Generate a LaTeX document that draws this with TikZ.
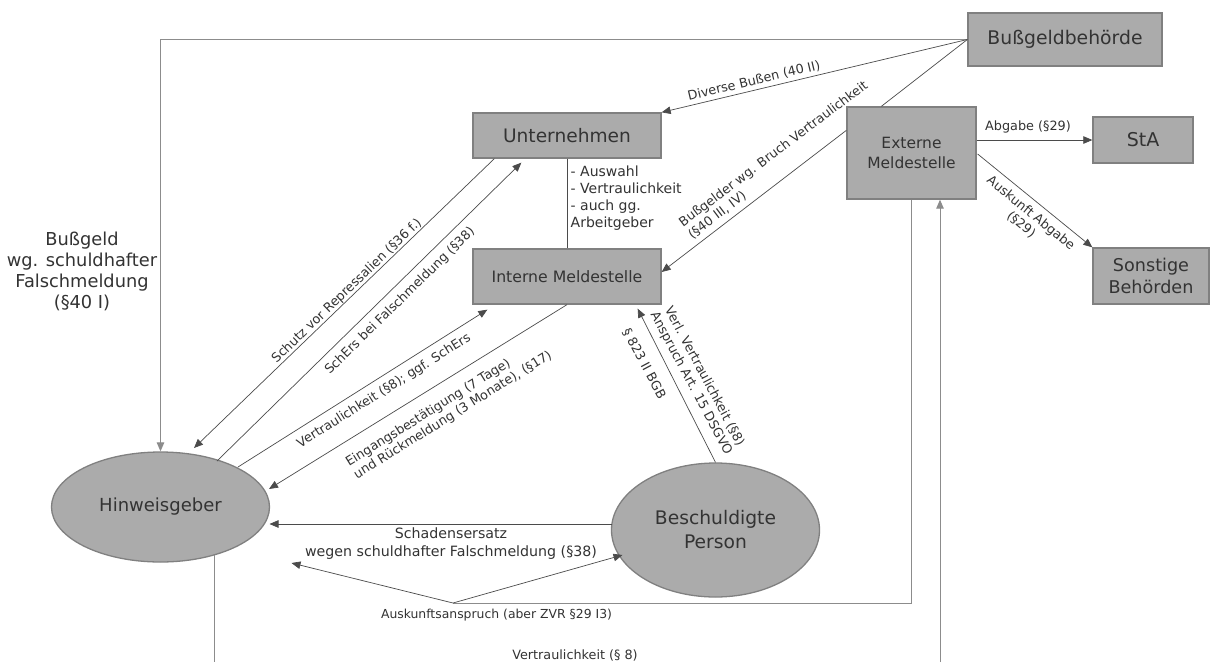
\documentclass[tikz,border=0pt]{standalone}
\usepackage{fontspec}
\setmainfont{DejaVu Sans}
\usetikzlibrary{arrows.meta,calc,shapes.geometric}
\definecolor{boxfill}{RGB}{171,171,171}
\definecolor{boxline}{RGB}{128,128,128}
\definecolor{txt}{RGB}{51,51,51}
\definecolor{conn}{RGB}{75,75,75}
\definecolor{lightconn}{RGB}{140,140,140}
\begin{document}
\begin{tikzpicture}[x=1pt,y=-1pt,
  box/.style={draw=boxline,fill=boxfill,line width=1.3pt,inner sep=0pt,text=txt,align=center},
  oval/.style={ellipse,draw=boxline,fill=boxfill,line width=1.3pt,inner sep=0pt,text=txt,align=center},
  link/.style={draw=conn,line width=0.7pt},
  arr/.style={link,-{Triangle[length=9pt,width=7.5pt]}},
  lbl/.style={text=txt,font=\fontsize{12.8}{15}\selectfont,inner sep=0pt},
]
\useasboundingbox (0,0) rectangle (1211,662);
\fill[white] (0,0) rectangle (1211,662);

% nodes
\node[box,minimum width=194pt,minimum height=53pt,font=\fontsize{18.8}{22}\selectfont] (bb) at (1065,39.5) {Bußgeldbehörde};
\node[box,minimum width=129pt,minimum height=92pt,font=\fontsize{15.5}{19.5}\selectfont] (ext) at (911.5,153) {Externe\\Meldestelle};
\node[box,minimum width=100pt,minimum height=46pt,font=\fontsize{19}{22}\selectfont] (sta) at (1143,140) {StA};
\node[box,minimum width=116pt,minimum height=56pt,font=\fontsize{17.6}{21.5}\selectfont] (sonst) at (1151,276) {Sonstige\\Behörden};
\node[box,minimum width=188pt,minimum height=45pt,font=\fontsize{18.6}{22}\selectfont] (unt) at (567,135.5) {Unternehmen};
\node[box,minimum width=188pt,minimum height=55pt,font=\fontsize{15.7}{19}\selectfont] (int) at (567,276.5) {Interne Meldestelle};
\node[oval,minimum width=218pt,minimum height=110pt,font=\fontsize{18}{20}\selectfont] (hw) at (160.5,507) {Hinweisgeber};
\node[oval,minimum width=208pt,minimum height=134pt,font=\fontsize{18.7}{24}\selectfont] (bp) at (715.5,530) {Beschuldigte\\Person};
\node[text=txt,align=center,inner sep=0pt,font=\fontsize{17.8}{21}\selectfont] (bgtext) at (82,271.5) {Bußgeld\\wg. schuldhafter\\Falschmeldung\\(§40 I)};

% connectors
\draw[arr,draw=lightconn,line width=1.1pt] (bb.west) -| (hw.north);
\draw[arr] (bb.west) -- (unt.north east);
\draw[link] (bb.west) -- ($(ext.north west)+(35,0)$);
\draw[arr] ($(ext.north west)+(0,24)$) -- ($(int.east)+(0,-4.5)$);
\draw[arr] ($(ext.east)+(0,-13)$) -- (sta.west);
\draw[arr] ($(ext.east)+(1,1)$) -- (sonst.north west);
\draw[link] (unt.south) -- (int.north);
\draw[arr] ($(unt.south west)+(22,0)$) -- ($(hw.center)+(33.5,-59)$);
\draw[arr] ($(hw.center)+(56.5,-46)$) -- ($(unt.south west)+(49,4)$);
\draw[arr] ($(hw.center)+(77.5,-40)$) -- ($(int.south west)+(15,5)$);
\draw[arr] (int.south) -- ($(hw.center)+(108.5,-18)$);
\draw[arr] (bp.north) -- ($(int.south east)+(-24,4)$);
\draw[arr] ($(bp.center)+(-104,-6)$) -- ($(hw.center)+(109,17)$);
\coordinate (j) at (453,603);
\coordinate (aL) at (291.5,563);
\draw[link,draw=lightconn,line width=1pt] (ext.south) |- (j);
\draw[arr] (j) -- (aL);
\draw[arr] (j) -- ($(bp.center)+(-93,25)$);
\coordinate (b1) at (214,662);
\coordinate (b2) at (940,662);
\draw[link,draw=lightconn,line width=1pt] ($(hw.center)+(53.5,48)$) -- (b1);
\draw[arr,draw=lightconn,line width=1pt] (b2) -- ($(ext.south)+(28.5,0)$);

% labels
\node[lbl,rotate=13.4] (l2) at (754,81) {Diverse Bußen (40 II)};
\node[lbl,rotate=37,align=left] (l4) at (778,160) {Bußgelder wg. Bruch Vertraulichkeit\\(§40 III, IV)};
\node[lbl] (l5) at (1028,127) {Abgabe (§29)};
\node[lbl,rotate=-39.3,align=center] (l6) at (1026,219) {Auskunft Abgabe\\(§29)};
\node[text=txt,inner sep=0pt,align=left,anchor=west,font=\fontsize{14}{16.8}\selectfont] (l7) at (570.5,198) {- Auswahl\\- Vertraulichkeit\\- auch gg.\\Arbeitgeber};
\node[lbl,rotate=43.9] (l8) at (347,291) {Schutz vor Repressalien (§36 f.)};
\node[lbl,rotate=44.4] (l9) at (400,301) {SchErs bei Falschmeldung (§38)};
\node[lbl,rotate=32.3] (l10) at (384,391) {Vertraulichkeit (§8); ggf. SchErs};
\node[lbl,rotate=31.9,align=left] (l11) at (449,409) {Eingangsbestätigung (7 Tage)\\und Rückmeldung (3 Monate), (§17)};
\node[lbl,rotate=-62,align=center] (l12) at (697.5,380) {Verl. Vertraulichkeit (§8)\\Anspruch Art. 15 DSGVO};
\node[lbl,rotate=-62] (l12b) at (644,363.5) {§ 823 II BGB};
\node[lbl,align=center,font=\fontsize{14.2}{18}\selectfont] (l13) at (451,544) {Schadensersatz\\wegen schuldhafter Falschmeldung (§38)};
\node[lbl,font=\fontsize{12.4}{15}\selectfont] (l14) at (496.5,615) {Auskunftsanspruch (aber ZVR §29 I3)};
\node[lbl] (l15) at (575,655) {Vertraulichkeit (§ 8)};
\end{tikzpicture}
\end{document}
